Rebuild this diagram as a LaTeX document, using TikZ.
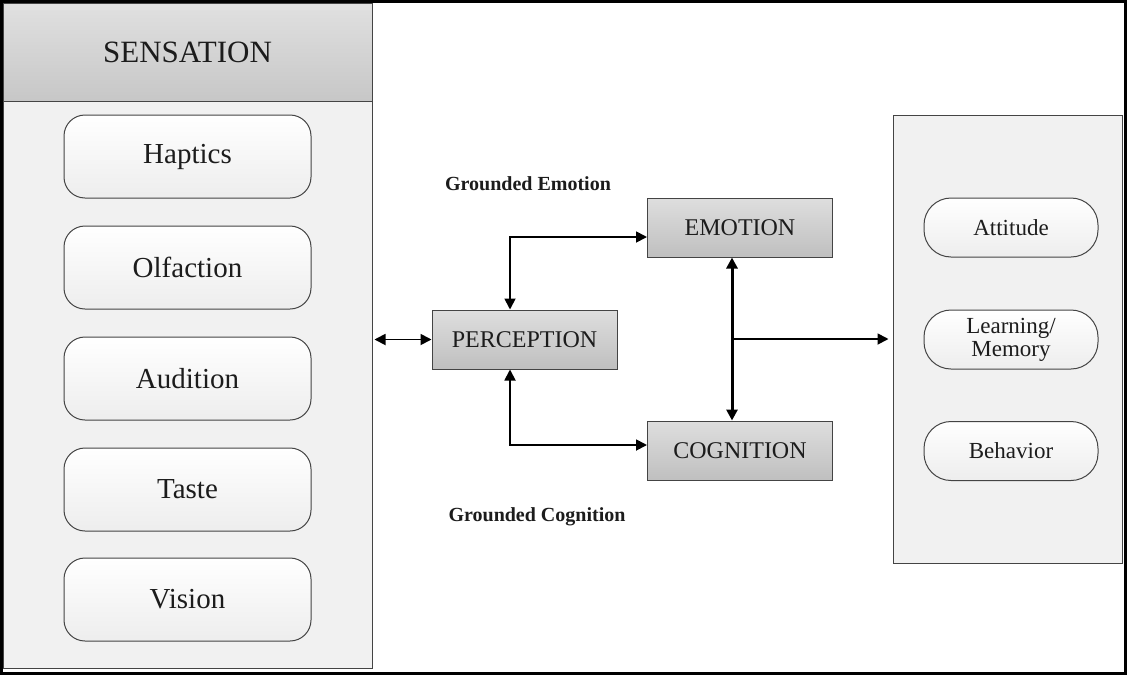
\documentclass[tikz,border=0pt]{standalone}
\usepackage{fontspec}
\setmainfont{Liberation Serif}
\usetikzlibrary{arrows.meta}
\definecolor{panelgray}{HTML}{F1F1F1}
\definecolor{linegray}{HTML}{444444}
\definecolor{inkgray}{HTML}{1C1C1C}
\tikzset{
  sense/.style={draw=linegray,line width=1pt,rounded corners=21pt,top color=white,bottom color=black!7,
    minimum width=247pt,minimum height=83pt,text=inkgray,font=\fontsize{29}{32}\selectfont},
  stage/.style={draw=linegray,line width=1pt,top color=black!13,bottom color=black!25,
    minimum width=185pt,minimum height=59pt,text=inkgray,font=\fontsize{24}{26}\selectfont},
  result/.style={draw=linegray,line width=1pt,rounded corners=27pt,top color=white,bottom color=black!7,
    minimum width=174pt,minimum height=59pt,align=center,text=inkgray,font=\fontsize{23}{23}\selectfont},
  link/.style={line width=1.8pt,{Triangle[length=11pt,width=11pt]}-{Triangle[length=11pt,width=11pt]}},
  ground/.style={text=inkgray,font=\bfseries\fontsize{20}{22}\selectfont}
}
\begin{document}
\begin{tikzpicture}[x=1pt,y=-1pt]
	\useasboundingbox (0,0) rectangle (1127,675);
	\fill[white] (0,0) rectangle (1127,675);
	% sensation side
	\node[draw=linegray,line width=1pt,fill=panelgray,minimum width=369pt,minimum height=665pt] (sens) at (187.5,335.5) {};
	\node[draw=linegray,line width=1pt,top color=black!12,bottom color=black!22,minimum width=369pt,minimum height=98pt,
		text=inkgray,font=\fontsize{31}{34}\selectfont] (head) at (187.5,52) {SENSATION};
	\node[sense] (hap) at (187.5,156.5) {Haptics};
	\node[sense] (olf) at (187.5,267.5) {Olfaction};
	\node[sense] (aud) at (187.5,378.5) {Audition};
	\node[sense] (tas) at (187.5,489.5) {Taste};
	\node[sense] (vis) at (187.5,599.5) {Vision};
	% outcome side
	\node[draw=linegray,line width=1pt,fill=panelgray,minimum width=229pt,minimum height=448pt] (outbox) at (1007.5,339) {};
	\node[result] (att) at (1011,227.5) {Attitude};
	\node[result] (lrn) at (1011,339.5) {Learning/\\Memory};
	\node[result] (beh) at (1011,451) {Behavior};
	% middle
	\node[stage] (perc) at (524.5,339.5) {PERCEPTION};
	\node[stage] (emo) at (740,227.5) {EMOTION};
	\node[stage] (cog) at (740,450.5) {COGNITION};
	\node[ground] (gemo) at (528,184) {Grounded Emotion};
	\node[ground] (gcog) at (537,517) {Grounded Cognition};
	\coordinate (ecx) at ([xshift=-8pt]emo.south);
	\coordinate (ccx) at ([xshift=-8pt]cog.north);
	\draw[link,shorten <=2pt] (perc.west -| sens.east) -- (perc.west);
	\draw[link] ([xshift=-14.5pt]perc.north) |- ([yshift=-9.5pt]emo.west);
	\draw[link] ([xshift=-14.5pt]perc.south) |- ([yshift=5.5pt]cog.west);
	\draw[link,line width=3pt] (ecx) -- (ccx);
	\draw[line width=1.8pt,-{Triangle[length=11pt,width=11pt]},shorten >=4pt] (ecx |- outbox.west) -- (outbox.west);
	% frame
	\draw[line width=3pt] (1.5,1.5) rectangle (1125.5,673.5);
\end{tikzpicture}
\end{document}
